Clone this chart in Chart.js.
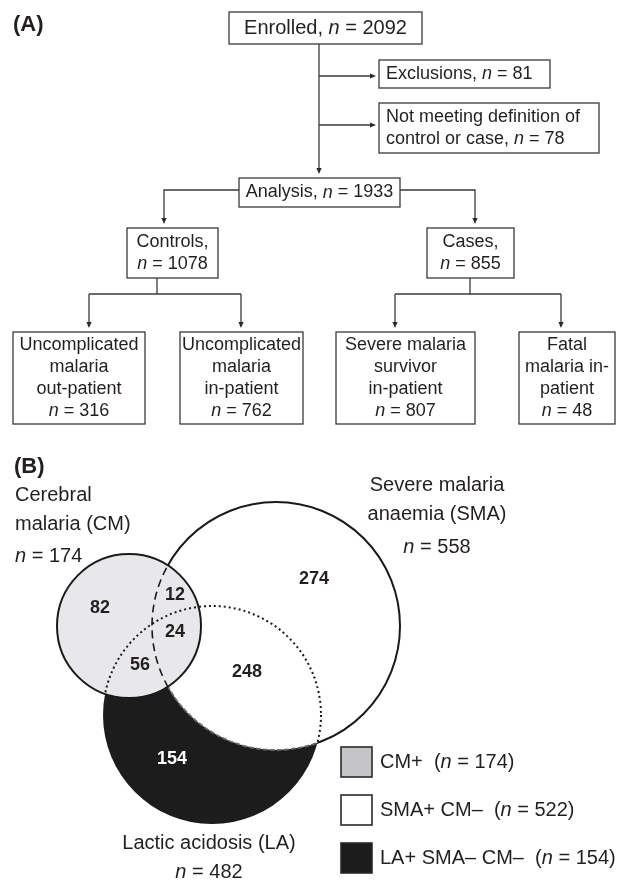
<!doctype html>
<html>

<head>
    <title>Enrolment flow and Venn diagram</title>
    <script src="https://cdn.jsdelivr.net/npm/chart.js"></script>
    <style>
        body { margin: 0; background: #fff; }
    </style>
</head>

<body>
    <canvas id="figura" width="624" height="881"></canvas>

    <script>
        // --- data ---
        var flowLabels = [
            'Enrolled,',
            'Exclusions,',
            'Not meeting definition of\ncontrol or case,',
            'Analysis,',
            'Controls,\n',
            'Cases,\n',
            'Uncomplicated\nmalaria\nout-patient\n',
            'Uncomplicated\nmalaria\nin-patient\n',
            'Severe malaria\nsurvivor\nin-patient\n',
            'Fatal\nmalaria in-\npatient\n'
        ];
        var flowCounts = [2092, 81, 78, 1933, 1078, 855, 316, 762, 807, 48];

        var vennSets = ['Cerebral\nmalaria (CM)', 'Severe malaria\nanaemia (SMA)', 'Lactic acidosis (LA)'];
        var vennTotals = [174, 558, 482];

        var regionNames = ['CM only', 'CM SMA', 'CM SMA LA', 'CM LA', 'SMA only', 'SMA LA', 'LA only'];
        var regionCounts = [82, 12, 24, 56, 274, 248, 154];

        var legendLabels = ['CM+', 'SMA+ CM\u2013', 'LA+ SMA\u2013 CM\u2013'];
        var legendCounts = [174, 522, 154];

        // --- layout (figure units, 0..624 x 0..881) ---
        var FONT = "'Liberation Sans', Arial, sans-serif";
        var TXT = '#231f20';

        var boxes = [
            { r: [229, 12, 422, 44], size: 20, align: 'center' },
            { r: [379, 60, 550, 88], size: 18, align: 'left' },
            { r: [379, 103, 599, 153], size: 18, align: 'left' },
            { r: [239, 178, 400, 207], size: 18, align: 'center' },
            { r: [127, 228, 218, 278], size: 18, align: 'center' },
            { r: [427, 228, 514, 278], size: 18, align: 'center' },
            { r: [13, 332, 145, 424], size: 18, align: 'center' },
            { r: [180, 332, 303, 424], size: 18, align: 'center' },
            { r: [336, 332, 475, 424], size: 18, align: 'center' },
            { r: [519, 332, 615, 424], size: 18, align: 'center' }
        ];
        var lineGap = 22;

        // polylines, last point gets arrow if flagged
        var links = [
            { p: [[319, 44], [319, 172]], arrow: true },
            { p: [[319, 76], [374, 76]], arrow: true },
            { p: [[319, 125], [374, 125]], arrow: true },
            { p: [[239, 190], [164, 190], [164, 222]], arrow: true },
            { p: [[400, 190], [475, 190], [475, 222]], arrow: true },
            { p: [[157, 278], [157, 294]], arrow: false },
            { p: [[89, 294], [241, 294]], arrow: false },
            { p: [[89, 294], [89, 326]], arrow: true },
            { p: [[241, 294], [241, 326]], arrow: true },
            { p: [[470, 278], [470, 294]], arrow: false },
            { p: [[395, 294], [561, 294]], arrow: false },
            { p: [[395, 294], [395, 326]], arrow: true },
            { p: [[561, 294], [561, 326]], arrow: true }
        ];

        var circles = {
            cm: { x: 129, y: 626, r: 72 },
            sma: { x: 276, y: 626, r: 124 },
            la: { x: 212, y: 715, r: 109 }
        };

        var setLabelPos = [
            { x: 15, ys: [495, 524, 556], align: 'left' },
            { x: 437, ys: [485, 514, 547], align: 'center' },
            { x: 209, ys: [843, 872], align: 'center' }
        ];

        var regionPos = [[100, 608], [175, 595], [175, 632], [140, 665], [314, 579], [247, 672], [172, 759]];

        var legendPos = { x: 341, w: 31, h: 30, ys: [747, 795, 843], textX: 380 };
        var legendFill = ['#c5c5c8', '#ffffff', '#1c1c1c'];

        function nParts(prefix, count, suffix) {
            return [
                { t: prefix, it: false },
                { t: 'n', it: true },
                { t: ' = ' + count + (suffix || ''), it: false }
            ];
        }

        function richLine(ctx, parts, x, y, size, align, weight) {
            var w = 0;
            parts.forEach(function (s) {
                ctx.font = (s.it ? 'italic ' : '') + (weight || '') + ' ' + size + 'px ' + FONT;
                s.w = ctx.measureText(s.t).width;
                w += s.w;
            });
            var cx = align === 'center' ? x - w / 2 : x;
            ctx.textAlign = 'left';
            ctx.textBaseline = 'middle';
            parts.forEach(function (s) {
                ctx.font = (s.it ? 'italic ' : '') + (weight || '') + ' ' + size + 'px ' + FONT;
                ctx.fillText(s.t, cx, y);
                cx += s.w;
            });
        }

        var figuraPlugin = {
            id: 'figura',
            afterDraw: function (chart) {
                var ctx = chart.ctx;
                var sx = chart.scales.x, sy = chart.scales.y;
                var X = function (v) { return sx.getPixelForValue(v); };
                var Y = function (v) { return sy.getPixelForValue(v); };
                var R = function (v) { return Math.abs(X(v) - X(0)); };

                ctx.save();
                ctx.fillStyle = TXT;

                // panel letters
                ctx.font = 'bold 22px ' + FONT;
                ctx.textBaseline = 'middle';
                ctx.textAlign = 'left';
                ctx.fillText('(A)', X(13), Y(25));
                ctx.fillText('(B)', X(14), Y(467));

                // connectors
                ctx.strokeStyle = '#3a3a3a';
                ctx.lineWidth = 1.3;
                links.forEach(function (l) {
                    ctx.beginPath();
                    l.p.forEach(function (pt, i) {
                        if (i === 0) ctx.moveTo(X(pt[0]), Y(pt[1]));
                        else ctx.lineTo(X(pt[0]), Y(pt[1]));
                    });
                    ctx.stroke();
                    if (l.arrow) {
                        var a = l.p[l.p.length - 2], b = l.p[l.p.length - 1];
                        var ang = Math.atan2(Y(b[1]) - Y(a[1]), X(b[0]) - X(a[0]));
                        var tx = X(b[0]), ty = Y(b[1]);
                        ctx.beginPath();
                        ctx.moveTo(tx + Math.cos(ang) * 2, ty + Math.sin(ang) * 2);
                        ctx.lineTo(tx - Math.cos(ang) * 4 - Math.sin(ang) * 2.6, ty - Math.sin(ang) * 4 + Math.cos(ang) * 2.6);
                        ctx.lineTo(tx - Math.cos(ang) * 4 + Math.sin(ang) * 2.6, ty - Math.sin(ang) * 4 - Math.cos(ang) * 2.6);
                        ctx.closePath();
                        ctx.fillStyle = '#2a2a2a';
                        ctx.fill();
                    }
                });

                // boxes
                boxes.forEach(function (b, i) {
                    var x0 = X(b.r[0]), y0 = Y(b.r[1]), x1 = X(b.r[2]), y1 = Y(b.r[3]);
                    ctx.fillStyle = '#fff';
                    ctx.fillRect(x0, y0, x1 - x0, y1 - y0);
                    ctx.strokeStyle = '#3a3a3a';
                    ctx.lineWidth = 1.3;
                    ctx.strokeRect(x0, y0, x1 - x0, y1 - y0);

                    var lines = flowLabels[i].split('\n');
                    var n = lines.length;
                    var cy = (y0 + y1) / 2;
                    var top = cy - (n - 1) * lineGap / 2;
                    var tx = b.align === 'center' ? (x0 + x1) / 2 : x0 + 7;
                    ctx.fillStyle = TXT;
                    lines.forEach(function (txt, k) {
                        var parts;
                        if (k === n - 1) {
                            parts = nParts(txt ? txt + ' ' : '', flowCounts[i]);
                        } else {
                            parts = [{ t: txt, it: false }];
                        }
                        richLine(ctx, parts, tx, top + k * lineGap, b.size, b.align);
                    });
                });

                // venn
                var cm = circles.cm, sma = circles.sma, la = circles.la;
                function circ(c) {
                    ctx.beginPath();
                    ctx.arc(X(c.x), Y(c.y), R(c.r), 0, Math.PI * 2);
                }
                function outside(c) {
                    ctx.beginPath();
                    ctx.rect(0, 0, chart.width, chart.height);
                    ctx.moveTo(X(c.x) + R(c.r), Y(c.y));
                    ctx.arc(X(c.x), Y(c.y), R(c.r), 0, Math.PI * 2);
                    ctx.clip('evenodd');
                }

                circ(la); ctx.fillStyle = '#1c1c1c'; ctx.fill();
                circ(sma); ctx.fillStyle = '#ffffff'; ctx.fill();
                circ(cm); ctx.fillStyle = '#e8e8ea'; ctx.fill();

                // SMA outline outside CM and LA: solid
                ctx.save();
                outside(cm); outside(la);
                circ(sma); ctx.strokeStyle = '#1a1a1a'; ctx.lineWidth = 2; ctx.stroke();
                ctx.restore();

                // SMA outline along the black region: grey dashes
                ctx.save();
                outside(cm); circ(la); ctx.clip();
                circ(sma); ctx.strokeStyle = '#6a6a6a'; ctx.lineWidth = 1.8; ctx.setLineDash([5, 2]); ctx.stroke();
                ctx.restore();

                // SMA outline inside CM: dashed
                ctx.save();
                circ(cm); ctx.clip();
                circ(sma); ctx.strokeStyle = '#1a1a1a'; ctx.lineWidth = 1.6; ctx.setLineDash([8, 5]); ctx.stroke();
                ctx.restore();

                // LA outline over SMA and CM: dotted
                ctx.save();
                ctx.beginPath();
                ctx.arc(X(sma.x), Y(sma.y), R(sma.r), 0, Math.PI * 2);
                ctx.moveTo(X(cm.x) + R(cm.r), Y(cm.y));
                ctx.arc(X(cm.x), Y(cm.y), R(cm.r), 0, Math.PI * 2);
                ctx.clip();
                circ(la); ctx.strokeStyle = '#1a1a1a'; ctx.lineWidth = 2; ctx.setLineDash([2, 3]); ctx.stroke();
                ctx.restore();

                // CM outline
                circ(cm); ctx.strokeStyle = '#1a1a1a'; ctx.lineWidth = 2; ctx.setLineDash([]); ctx.stroke();

                // region counts
                ctx.font = 'bold 18px ' + FONT;
                ctx.textAlign = 'center';
                ctx.textBaseline = 'middle';
                regionCounts.forEach(function (v, i) {
                    ctx.fillStyle = regionNames[i] === 'LA only' ? '#ffffff' : TXT;
                    ctx.fillText(String(v), X(regionPos[i][0]), Y(regionPos[i][1]));
                });

                // set labels
                ctx.fillStyle = TXT;
                vennSets.forEach(function (name, i) {
                    var pos = setLabelPos[i];
                    var lines = name.split('\n');
                    lines.forEach(function (txt, k) {
                        richLine(ctx, [{ t: txt, it: false }], X(pos.x), Y(pos.ys[k]), 20, pos.align);
                    });
                    richLine(ctx, nParts('', vennTotals[i]), X(pos.x), Y(pos.ys[lines.length]), 20, pos.align);
                });

                // legend
                legendLabels.forEach(function (lab, i) {
                    var y0 = Y(legendPos.ys[i]);
                    var x0 = X(legendPos.x);
                    var w = R(legendPos.w), h = Math.abs(Y(legendPos.h) - Y(0));
                    ctx.fillStyle = legendFill[i];
                    ctx.fillRect(x0, y0, w, h);
                    ctx.strokeStyle = '#2a2a2a';
                    ctx.lineWidth = 1.6;
                    ctx.strokeRect(x0, y0, w, h);
                    ctx.fillStyle = TXT;
                    richLine(ctx, nParts(lab + '  (', legendCounts[i], ')'), X(legendPos.textX), y0 + h / 2, 20, 'left');
                });

                ctx.restore();
            }
        };

        var figura = new Chart(document.getElementById('figura').getContext('2d'), {
            type: 'scatter',
            data: { datasets: [] },
            options: {
                responsive: false,
                animation: false,
                layout: { padding: 0 },
                plugins: {
                    legend: { display: false },
                    tooltip: { enabled: false }
                },
                scales: {
                    x: { type: 'linear', min: 0, max: 624, display: false },
                    y: { type: 'linear', min: 0, max: 881, reverse: true, display: false }
                }
            },
            plugins: [figuraPlugin]
        });
    </script>
</body>

</html>
